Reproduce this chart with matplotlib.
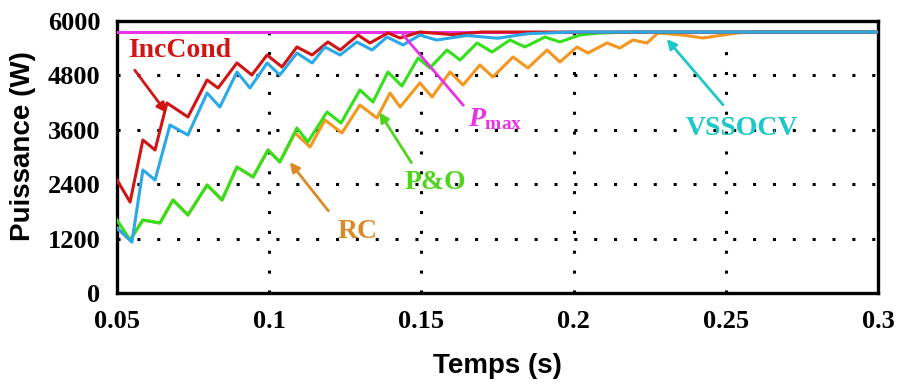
import matplotlib
matplotlib.use('Agg')
import matplotlib.pyplot as plt

# ---------------- data ----------------
t_inccond = [0.0500, 0.0543, 0.0585, 0.0625, 0.0664, 0.0733, 0.0796, 0.0832, 0.0894, 0.0943,
             0.0993, 0.1042, 0.1091, 0.1141, 0.1193, 0.1233, 0.1292, 0.1331, 0.1390, 0.1430,
             0.1495, 0.1600, 0.1700, 0.3000]
p_inccond = [2493, 2007, 3375, 3155, 4191, 3883, 4699, 4522, 5074, 4809,
             5250, 4986, 5427, 5250, 5537, 5360, 5691, 5515, 5736, 5625,
             5757, 5700, 5757, 5757]

t_vssocv = [0.0500, 0.0549, 0.0585, 0.0625, 0.0674, 0.0733, 0.0796, 0.0838, 0.0894, 0.0937,
            0.0993, 0.1035, 0.1091, 0.1141, 0.1183, 0.1233, 0.1288, 0.1338, 0.1387, 0.1440,
            0.1495, 0.1550, 0.1650, 0.1750, 0.1850, 0.2000, 0.3000]
p_vssocv = [1434, 1125, 2713, 2493, 3706, 3485, 4412, 4103, 4875, 4522,
            5074, 4809, 5294, 5074, 5427, 5250, 5537, 5360, 5647, 5471,
            5690, 5580, 5680, 5620, 5720, 5757, 5757]

t_po = [0.0500, 0.0543, 0.0585, 0.0641, 0.0684, 0.0733, 0.0796, 0.0845, 0.0894, 0.0947,
        0.0996, 0.1035, 0.1091, 0.1127, 0.1190, 0.1236, 0.1298, 0.1341, 0.1390, 0.1436,
        0.1489, 0.1528, 0.1584, 0.1627, 0.1683, 0.1732, 0.1791, 0.1840, 0.1906, 0.1955,
        0.2021, 0.2087, 0.2200, 0.3000]
p_po = [1610, 1169, 1610, 1544, 2051, 1720, 2382, 2051, 2779, 2559,
        3155, 2890, 3640, 3331, 3993, 3750, 4478, 4213, 4875, 4566,
        5184, 4963, 5360, 5140, 5515, 5316, 5581, 5427, 5647, 5537,
        5691, 5736, 5757, 5757]

t_rc = [0.0500, 0.0543, 0.0585, 0.0641, 0.0684, 0.0733, 0.0796, 0.0845, 0.0894, 0.0947,
        0.0996, 0.1035, 0.1085, 0.1134, 0.1183, 0.1239, 0.1298, 0.1354, 0.1397, 0.1430,
        0.1495, 0.1535, 0.1594, 0.1637, 0.1692, 0.1735, 0.1801, 0.1850, 0.1913, 0.1955,
        0.2011, 0.2047, 0.2110, 0.2152, 0.2195, 0.2241, 0.2277, 0.2359, 0.2425, 0.2537,
        0.2600, 0.3000]
p_rc = [1434, 1169, 1610, 1544, 2051, 1720, 2382, 2051, 2779, 2559,
        3155, 2890, 3530, 3220, 3816, 3530, 4147, 3860, 4412, 4103,
        4633, 4324, 4875, 4588, 5030, 4765, 5206, 4963, 5360, 5096,
        5427, 5294, 5515, 5405, 5581, 5515, 5736, 5690, 5625, 5736,
        5757, 5757]

t_pmax = [0.05, 0.30]
p_pmax = [5757, 5757]

x_ticks = [0.05, 0.1, 0.15, 0.2, 0.25, 0.3]
x_ticklabels = ['0.05', '0.1', '0.15', '0.2', '0.25', '0.3']
y_ticks = [0, 1200, 2400, 3600, 4800, 6000]
y_ticklabels = ['0', '1200', '2400', '3600', '4800', '6000']

# ---------------- styling ----------------
plt.rcParams['mathtext.fontset'] = 'custom'
plt.rcParams['mathtext.it'] = 'Liberation Serif:italic:bold'
plt.rcParams['mathtext.rm'] = 'Liberation Serif:bold'
plt.rcParams['mathtext.bf'] = 'Liberation Serif:bold'

C_RED = '#d01515'
C_BLUE = '#2aa8e8'
C_GREEN = '#33e01a'
C_ORANGE = '#f5961e'
C_MAG = '#e832e8'
C_CYAN = '#1fc8c8'

W, H = 901, 388
fig = plt.figure(figsize=(W / 100, H / 100), dpi=100)
ax = fig.add_axes([117 / W, 1 - 293 / H, (878 - 117) / W, (293 - 21) / H])

lw = 2.2
ax.plot(t_pmax, p_pmax, color=C_MAG, lw=lw, zorder=3)
ax.plot(t_rc, p_rc, color=C_ORANGE, lw=lw, zorder=4, solid_joinstyle='round')
ax.plot(t_po, p_po, color=C_GREEN, lw=lw, zorder=5, solid_joinstyle='round')
ax.plot(t_inccond, p_inccond, color=C_RED, lw=lw, zorder=6, solid_joinstyle='round')
ax.plot(t_vssocv, p_vssocv, color=C_BLUE, lw=lw, zorder=7, solid_joinstyle='round')

ax.set_xlim(0.05, 0.3)
ax.set_ylim(0, 6000)
ax.set_xticks(x_ticks)
ax.set_xticklabels(x_ticklabels)
ax.set_yticks(y_ticks)
ax.set_yticklabels(y_ticklabels)
ax.tick_params(length=0, labelsize=19)
ax.tick_params(axis='x', pad=12)
ax.tick_params(axis='y', pad=12)
for lab in ax.get_xticklabels() + ax.get_yticklabels():
    lab.set_fontfamily('Liberation Serif')
    lab.set_fontweight('bold')

for s in ax.spines.values():
    s.set_linewidth(2.4)
    s.set_color('black')

for xv in x_ticks[1:-1]:
    ax.axvline(xv, color='black', lw=2.2, ls=(0, (1, 5.5)), zorder=1)
for yv in y_ticks[1:-1]:
    ax.axhline(yv, color='black', lw=2.2, ls=(0, (1, 5.5)), zorder=1)

ax.set_xlabel('Temps (s)', fontfamily='Liberation Sans', fontweight='bold', fontsize=20)
ax.set_ylabel('Puissance (W)', fontfamily='Liberation Sans', fontweight='bold', fontsize=20)
ax.xaxis.set_label_coords(0.5, -0.22)
ax.yaxis.set_label_coords(-0.106, 0.54)

# annotations
tfont = dict(fontfamily='Liberation Serif', fontweight='bold', fontsize=20, ha='center', va='center', zorder=10)
ax.text(0.0707, 5339, 'IncCond', color=C_RED, **tfont)
ax.annotate('', xy=(0.0668, 3927), xytext=(0.0553, 4964),
            arrowprops=dict(arrowstyle='-|>', color=C_RED, lw=2, mutation_scale=14), zorder=10)

ax.text(0.1292, 1346, 'RC', color='#dc8a28', **tfont)
ax.annotate('', xy=(0.1062, 2934), xytext=(0.1200, 1765),
            arrowprops=dict(arrowstyle='-|>', color='#dc8a28', lw=2, mutation_scale=14), zorder=10)

ax.text(0.1545, 2427, 'P&O', color='#52d41e', **tfont)
ax.annotate('', xy=(0.1357, 4037), xytext=(0.1472, 2824),
            arrowprops=dict(arrowstyle='-|>', color='#52d41e', lw=2, mutation_scale=14), zorder=10)

ax.text(0.1742, 3838, r'$P_{\mathrm{max}}$', color=C_MAG, **tfont)
ax.plot([0.1637, 0.1440], [4147, 5691], color=C_MAG, lw=2, zorder=10)

ax.text(0.2553, 3618, 'VSSOCV', color=C_CYAN, **tfont)
ax.annotate('', xy=(0.2300, 5647), xytext=(0.2497, 4103),
            arrowprops=dict(arrowstyle='-|>', color=C_CYAN, lw=2, mutation_scale=14), zorder=10)

fig.savefig('out.png', dpi=100)
